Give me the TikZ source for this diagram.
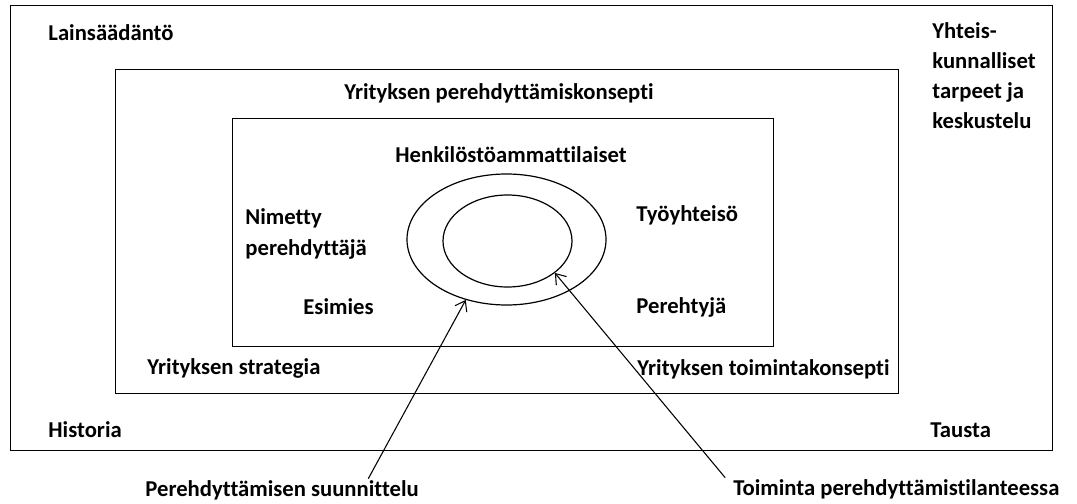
\documentclass[tikz,border=0pt]{standalone}
\usepackage{fontspec}
\setmainfont[Ligatures=NoCommon]{Carlito}
\usetikzlibrary{shapes.geometric,arrows.meta}
\tikzset{
  frame/.style={draw, line width=1pt},
  lbl/.style={font=\bfseries\fontsize{17}{20}\selectfont, inner sep=2pt},
  ring/.style={draw, ellipse, line width=0.9pt, inner sep=0pt},
  pointer/.style={line width=0.8pt, -{Straight Barb[length=7pt,width=10pt]}}
}
\begin{document}
\begin{tikzpicture}[x=0.75pt,y=-0.75pt]
\useasboundingbox (0,0) rectangle (1077,503);
% frames
\node (outer) [frame, minimum width=781.5pt, minimum height=333.75pt, anchor=north west, inner sep=0] at (10,5) {};
\node (middle) [frame, minimum width=587.25pt, minimum height=243pt, anchor=north west, inner sep=0] at (115,69) {};
\node (inner) [frame, minimum width=405.75pt, minimum height=171pt, anchor=north west, inner sep=0] at (232,118) {};
% ellipses
\node (oell) [ring, minimum width=149.25pt, minimum height=98.25pt] at (506.5,239.5) {};
\node (iell) [ring, minimum width=96.75pt, minimum height=69pt] at (507.5,241) {};
% labels
\node (laki) [lbl, anchor=west] at (45.5,33) {Lainsäädäntö};
\node (yht) [lbl, anchor=north west, align=left, font=\bfseries\fontsize{17}{22.5}\selectfont] at (929.5,20) {Yhteis-\\kunnalliset\\tarpeet ja\\keskustelu};
\node (ypk) [lbl] at (499,93) {Yrityksen perehdyttämiskonsepti};
\node (hka) [lbl] at (511,155) {Henkilöstöammattilaiset};
\node (nim) [lbl, anchor=north west, align=left, font=\bfseries\fontsize{17}{23.25}\selectfont] at (242.5,206) {Nimetty\\perehdyttäjä};
\node (tyo) [lbl, anchor=west] at (633.5,215) {Työyhteisö};
\node (esi) [lbl, anchor=west] at (300.5,307) {Esimies};
\node (per) [lbl, anchor=west] at (633.5,307) {Perehtyjä};
\node (str) [lbl, anchor=west] at (144.5,368) {Yrityksen strategia};
\node (tkon) [lbl, anchor=west] at (634.5,369) {Yrityksen toimintakonsepti};
\node (his) [lbl, anchor=west] at (45.5,430) {Historia};
\node (tau) [lbl, anchor=west] at (927.5,430) {Tausta};
\node (ps) [lbl, anchor=west] at (142.5,490) {Perehdyttämisen suunnittelu};
\node (tp) [lbl, anchor=west] at (730.5,489) {Toiminta perehdyttämistilanteessa};
% pointers
\draw[pointer] ([xshift=-40pt,yshift=-1pt]ps.north east) -- (oell.236);
\draw[pointer] ([xshift=-4pt,yshift=-1pt]tp.north west) -- (iell.-34.5);
\end{tikzpicture}
\end{document}
